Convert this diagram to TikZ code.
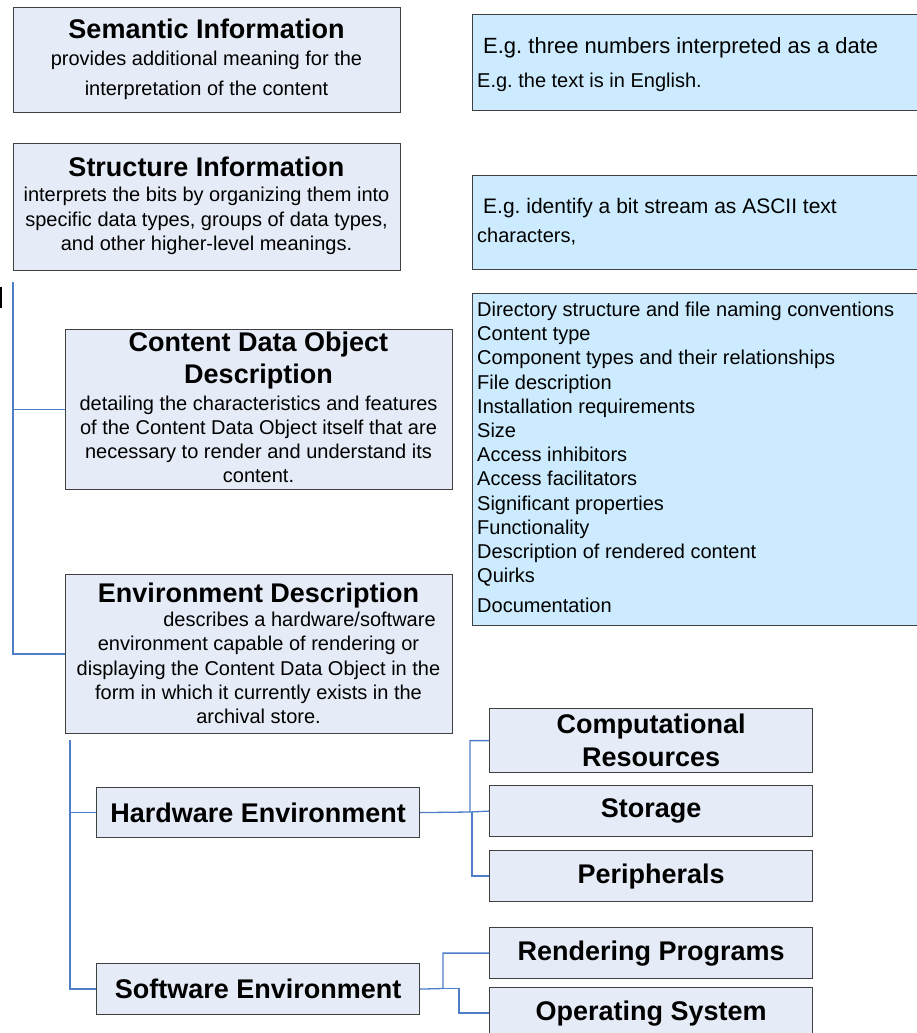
\documentclass[tikz,border=0pt]{standalone}
\usepackage{fontspec}
\setmainfont{Liberation Sans}
\frenchspacing
\definecolor{boxfill}{HTML}{E6ECF7}
\definecolor{notefill}{HTML}{CCEBFE}
\definecolor{boxline}{HTML}{404040}
\definecolor{connblue}{HTML}{4F7EC8}
\tikzset{
  box/.style={rectangle, draw=boxline, line width=1.2pt, fill=boxfill, inner sep=0pt, anchor=north west},
  note/.style={rectangle, draw=boxline, line width=1.2pt, fill=notefill, inner sep=0pt, anchor=north west},
  ttl/.style={font=\fontsize{27}{32}\selectfont\bfseries, align=center, inner sep=0pt},
  bodytext/.style={align=center, inner sep=0pt},
  notetext/.style={anchor=base west, inner sep=0pt},
  conn/.style={draw=connblue, line width=1.3pt}
}
\begin{document}
\begin{tikzpicture}[x=1pt,y=-1pt]
\useasboundingbox (0,0) rectangle (916,1033);

% left boxes
\node[box, minimum width=387pt, minimum height=105pt] (sem) at (13,7) {};
\node[box, minimum width=387pt, minimum height=127pt] (str) at (13,143) {};
\node[box, minimum width=387pt, minimum height=160pt] (cdo) at (65,329) {};
\node[box, minimum width=387pt, minimum height=159pt] (env) at (65,574) {};
\node[box, minimum width=323pt, minimum height=50pt, ttl] (hw) at (96,787) {Hardware Environment};
\node[box, minimum width=323pt, minimum height=51pt, ttl] (sw) at (96,963) {Software Environment};

% right small boxes
\node[box, minimum width=323pt, minimum height=64pt, ttl, font=\fontsize{27}{33}\selectfont\bfseries] (comp) at (489,708) {Computational\\Resources};
\node[box, minimum width=323pt, minimum height=51pt, ttl] (stor) at (489,785) {Storage};
\node[box, minimum width=323pt, minimum height=51pt, ttl] (per) at (489,850) {Peripherals};
\node[box, minimum width=323pt, minimum height=51pt, ttl] (rend) at (489,927) {Rendering Programs};
\node[box, minimum width=323pt, minimum height=51pt, ttl] (os) at (489,987) {Operating System};

% note boxes
\node[note, minimum width=453pt, minimum height=96pt] (n1) at (472,14) {};
\node[note, minimum width=453pt, minimum height=94pt] (n2) at (472,175) {};
\node[note, minimum width=453pt, minimum height=332pt] (n3) at (472,293) {};

% texts of left boxes
\node[ttl, anchor=base] (semT) at (206.5,39) {Semantic Information};
\node[bodytext, font=\fontsize{20}{30}\selectfont] (semB) at (206.5,75.5)
  {provides additional meaning for the\\interpretation of the content};
\node[ttl, anchor=base] (strT) at (206.5,176.7) {Structure Information};
\node[bodytext, font=\fontsize{20}{24.5}\selectfont] (strB) at (206.5,221.3)
  {interprets the bits by organizing them into\\specific data types, groups of data types,\\and other higher-level meanings.};
\node[ttl] (cdoT) at (258.5,361) {Content Data Object\\Description};
\node[bodytext, font=\fontsize{20}{24}\selectfont] (cdoB) at (258.5,439.7)
  {detailing the characteristics and features\\of the Content Data Object itself that are\\necessary to render and understand its\\content.};
\node[ttl, anchor=base] (envT) at (258.5,602) {Environment Description};
\node[bodytext, font=\fontsize{20}{24.3}\selectfont] (envB) at (258.5,668)
  {\hspace*{82pt}describes a hardware/software\\environment capable of rendering or\\displaying the Content Data Object in the\\form in which it currently exists in the\\archival store.};

% note texts
\node[notetext, font=\fontsize{22}{26}\selectfont] (n1a) at (483,53) {E.g. three numbers interpreted as a date};
\node[notetext, font=\fontsize{20}{24}\selectfont] (n1b) at (477,88) {E.g. the text is in English.};
\node[notetext, font=\fontsize{21}{25}\selectfont] (n2a) at (483,213) {E.g. identify a bit stream as ASCII text};
\node[notetext, font=\fontsize{20}{24}\selectfont] (n2b) at (477,242) {characters,};
\node[anchor=west, inner sep=0pt, align=left, font=\fontsize{20}{24.2}\selectfont] (n3t) at (477,457.6)
  {Directory structure and file naming conventions\\Content type\\Component types and their relationships\\File description\\Installation requirements\\Size\\Access inhibitors\\Access facilitators\\Significant properties\\Functionality\\Description of rendered content\\Quirks\\[6pt]Documentation};

% connectors
\coordinate (v1top) at (13,282);
\draw[conn] (v1top) |- (env.west);
\draw[conn] (v1top |- cdo.west) -- (cdo.west);
\coordinate (v2top) at (70,740);
\draw[conn] (v2top) |- (sw.west);
\draw[conn] (v2top |- hw.west) -- (hw.west);
\coordinate (hj) at (470,812);
\coordinate (hj2) at (472,812);
\draw[conn] (hw.east) -- (hj) |- (comp.west);
\draw[conn] (hj) -- (stor.west);
\draw[conn] (hj2) |- (per.west);
\coordinate (sj) at (443,988.5);
\coordinate (sj2) at (459,988.5);
\draw[conn] (sw.east) -- (sj) |- (rend.west);
\draw[conn] (sj) -- (sj2) |- (os.west);

% small black mark at left edge
\draw[black, line width=3pt] (0,287) -- (0,308);
\end{tikzpicture}
\end{document}
